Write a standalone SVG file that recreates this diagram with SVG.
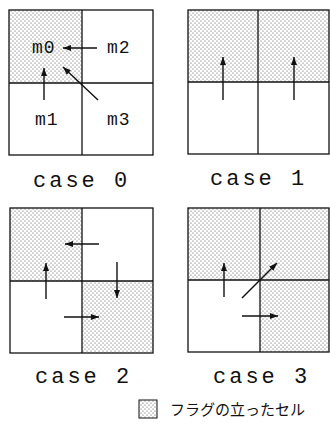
<svg xmlns="http://www.w3.org/2000/svg" width="330" height="446" viewBox="0 0 330 446">
<style>
.grid{fill:none;stroke:#111;stroke-width:1.3}
.shade{fill:url(#dots)}
.lbl{font-family:"Liberation Mono",monospace;font-size:22px;letter-spacing:3px;fill:#111}
.cell{font-family:"Liberation Mono",monospace;font-size:18px;letter-spacing:1px;fill:#111}
.arr{stroke:#111;stroke-width:1.4;fill:none;marker-end:url(#ah)}
.leg{font-family:"Noto Sans CJK JP",sans-serif;font-size:15px;fill:#111}
</style>
<defs>
<pattern id="dots" width="4" height="4" patternUnits="userSpaceOnUse">
<rect width="4" height="4" fill="#fff"/>
<circle cx="1" cy="1" r="0.55" fill="#444"/>
<circle cx="3" cy="3" r="0.55" fill="#444"/>
</pattern>
<marker id="ah" markerUnits="userSpaceOnUse" markerWidth="9" markerHeight="8" refX="8" refY="4" orient="auto">
<path d="M0,1 L8,4 L0,7 Z" fill="#111"/>
</marker>
</defs>
<g id="case0">
<rect class="shade" x="9" y="10" width="73" height="73"/>
<rect class="grid" x="9" y="10" width="144" height="145"/>
<line class="grid" x1="82" y1="10" x2="82" y2="155"/>
<line class="grid" x1="9" y1="83" x2="153" y2="83"/>
<text class="cell" x="32" y="53">m0</text>
<text class="cell" x="107" y="53">m2</text>
<text class="cell" x="35" y="125">m1</text>
<text class="cell" x="107" y="125">m3</text>
<text class="lbl" x="33" y="187">case 0</text>
</g>
<g id="case1">
<rect class="shade" x="188" y="10" width="141" height="72"/>
<rect class="grid" x="188" y="10" width="141" height="144"/>
<line class="grid" x1="258" y1="10" x2="258" y2="154"/>
<line class="grid" x1="188" y1="82" x2="329" y2="82"/>
<text class="lbl" x="210" y="185">case 1</text>
</g>
<g id="case2">
<rect class="shade" x="10" y="208" width="72" height="73"/>
<rect class="shade" x="82" y="281" width="71" height="72"/>
<rect class="grid" x="10" y="208" width="143" height="145"/>
<line class="grid" x1="82" y1="208" x2="82" y2="353"/>
<line class="grid" x1="10" y1="281" x2="153" y2="281"/>
<text class="lbl" x="35" y="383">case 2</text>
</g>
<g id="case3">
<rect class="shade" x="188" y="208" width="141" height="72"/>
<rect class="shade" x="260" y="280" width="69" height="72"/>
<rect class="grid" x="188" y="208" width="141" height="144"/>
<line class="grid" x1="260" y1="208" x2="260" y2="352"/>
<line class="grid" x1="188" y1="280" x2="329" y2="280"/>
<text class="lbl" x="213" y="383">case 3</text>
</g>
<g id="legend">
<rect class="shade" x="139" y="400" width="18" height="18" stroke="#111" stroke-width="1"/>
<text class="leg" x="170" y="415">フラグの立ったセル</text>
</g>
<g id="connectors">
<line class="arr" x1="97" y1="48" x2="63" y2="48"/>
<line class="arr" x1="44" y1="100" x2="44" y2="68"/>
<line class="arr" x1="98" y1="100" x2="63" y2="67"/>
<line class="arr" x1="223" y1="100" x2="223" y2="57"/>
<line class="arr" x1="294" y1="100" x2="294" y2="57"/>
<line class="arr" x1="99" y1="244" x2="65" y2="244"/>
<line class="arr" x1="46" y1="299" x2="46" y2="263"/>
<line class="arr" x1="117" y1="262" x2="117" y2="298"/>
<line class="arr" x1="64" y1="317" x2="99" y2="317"/>
<line class="arr" x1="224" y1="297" x2="224" y2="263"/>
<line class="arr" x1="242" y1="298" x2="277" y2="263"/>
<line class="arr" x1="242" y1="316" x2="278" y2="316"/>
</g>
</svg>
